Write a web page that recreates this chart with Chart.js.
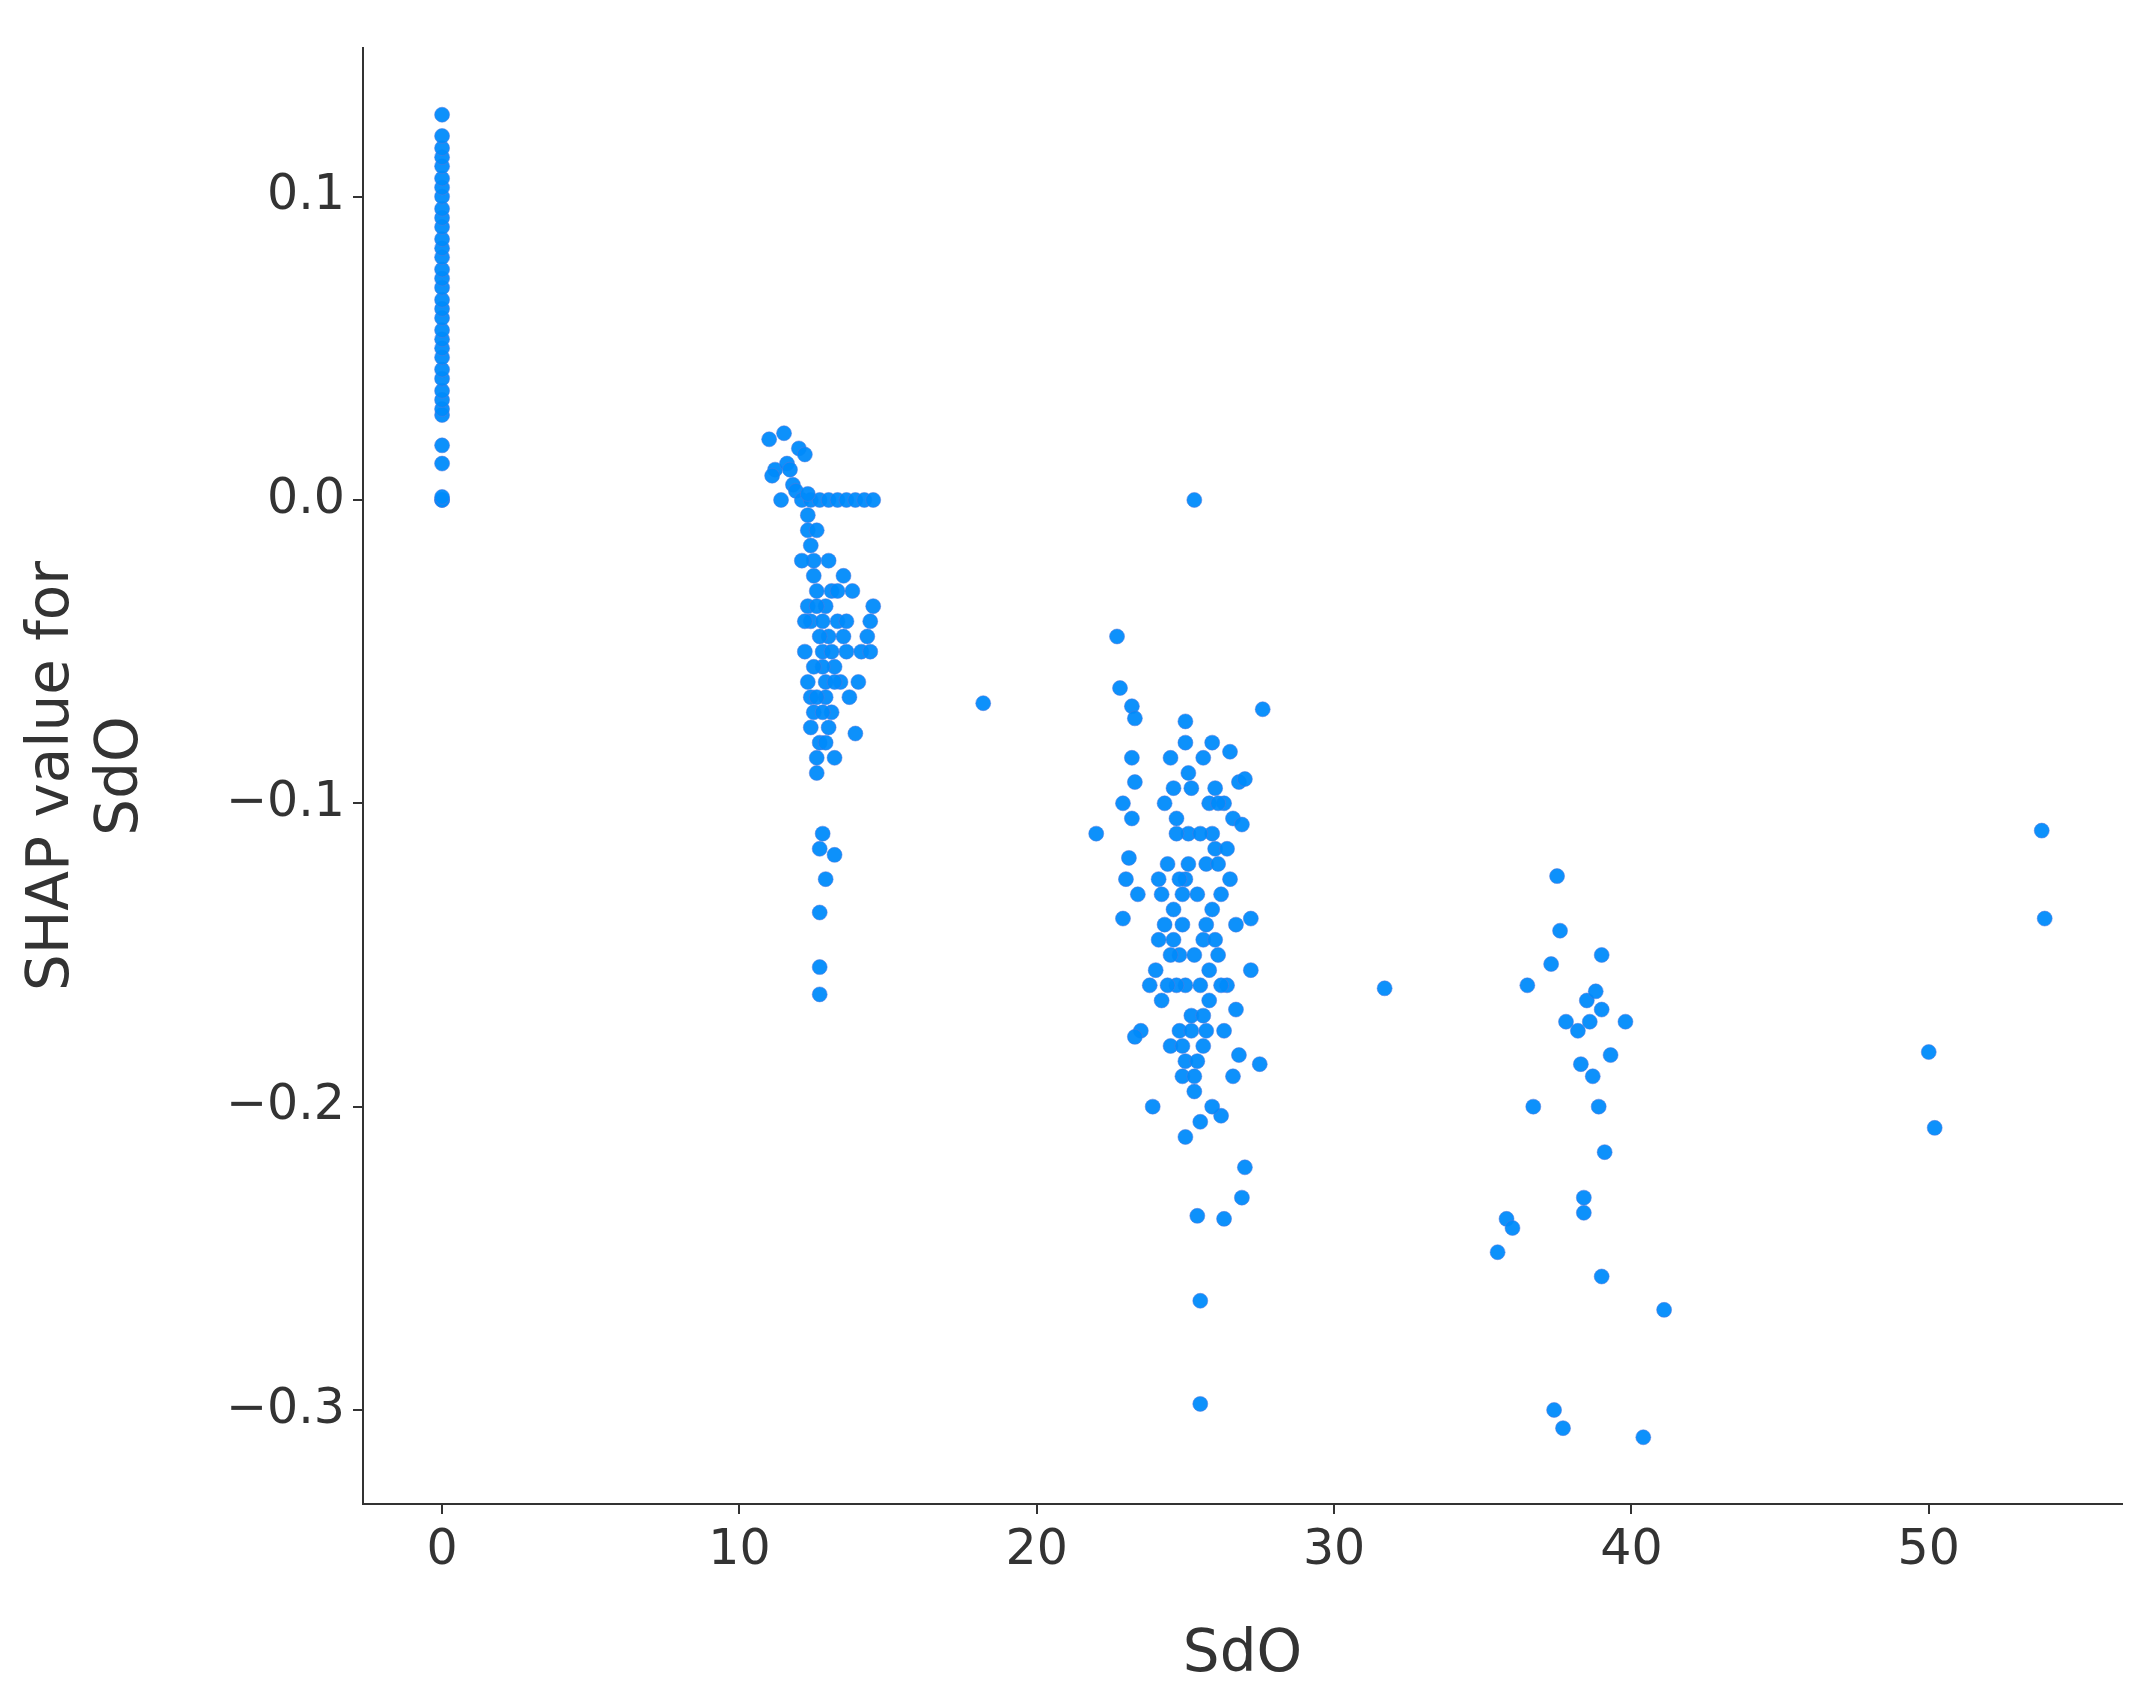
<!DOCTYPE html>
<html><head><meta charset="utf-8">
<script src="https://cdn.jsdelivr.net/npm/chart.js@4/dist/chart.umd.min.js"></script>
<style>html,body{margin:0;padding:0;background:#fff}#w{width:2138px;height:1695px}</style>
</head><body><div id="w"><canvas id="c"></canvas></div>
<script>
const xTicks=[0,10,20,30,40,50];
const yTicks=[-0.3,-0.2,-0.1,0,0.1];
const xTitle="SdO";
const yTitle=["SHAP value for","SdO"];
const cluster0Y=[0,0,0.001,0.012,0.018,0.028,0.03,0.033,0.036,0.04,0.043,0.047,0.05,0.053,0.056,0.06,0.063,0.066,0.07,0.073,0.076,0.08,0.083,0.086,0.09,0.093,0.096,0.1,0.103,0.106,0.11,0.113,0.116,0.12,0.127];
const pointsX=[11,11.5,11.2,11.6,12,12.2,11.1,11.8,11.4,11.9,12.1,12.4,12.7,13,13.3,13.6,13.9,14.2,14.5,12.3,12.5,12.6,12.4,12.8,12.2,12.9,12.5,12.7,12.6,13.1,13.3,13.5,13.6,13.8,14,14.3,14.5,14.4,13.9,13.2,12.8,12.7,13.2,12.9,12.7,12.7,12.7,13,12.3,13.4,12.4,13,13.7,12.1,12.9,13.2,
12.3,12.4,12.5,12.6,12.7,12.8,12.9,13,13.1,12.5,12.6,12.8,12.3,12.4,12.6,12.9,13.1,13.3,13.5,12.2,12.6,12.8,13.2,13.6,14.1,14.4,11.7,12.3,
18.2,
22.7,22.8,23.2,23.3,22,22.9,23.2,23.3,23.2,23.1,23,22.9,23.4,23.5,23.3,24,24.1,23.9,24.3,24.5,24.4,24.6,24.8,24.2,25,25,25.2,25.1,25,24.9,25,24.8,24.9,25,25.3,25.5,25.3,25.4,25.5,25.5,25.6,25.8,25.7,25.6,25.8,25.6,25.9,26,26.2,26.1,26.3,26.2,26.3,26.5,26.6,26.5,26.7,26.4,26.8,26.9,26.7,26.8,27,26.9,27.2,27.2,27.5,27.6,24.6,24.7,25.4,25.2,24.5,26,25.9,26.6,27,
24.3,24.5,24.7,24.9,25.1,25.3,25.5,25.7,25.9,26.1,26.3,24.4,24.6,24.8,25,25.2,25.4,25.6,25.8,26,26.2,24.2,24.7,25.1,25.5,25.9,26.4,24.1,23.8,24.9,25.3,25.7,26.1,
31.7,35.5,35.8,36,36.5,36.7,37.3,37.5,37.6,37.4,37.7,37.8,38.2,38.3,38.4,38.4,38.5,38.6,38.7,38.8,38.9,39,39,39,39.1,39.3,39.8,40.4,41.1,50,50.2,53.8,53.9];
const pointsY=[0.02,0.022,0.01,0.012,0.017,0.015,0.008,0.005,0,0.003,0,0,0,0,0,0,0,0,0,-0.01,-0.02,-0.03,-0.04,-0.05,-0.05,-0.06,-0.07,-0.08,-0.09,-0.07,-0.04,-0.025,-0.05,-0.03,-0.06,-0.045,-0.035,-0.04,-0.077,-0.085,-0.11,-0.115,-0.117,-0.125,-0.136,-0.154,-0.163,-0.02,-0.035,-0.06,-0.065,-0.045,-0.065,-0.02,-0.035,-0.055,
-0.005,-0.015,-0.025,-0.035,-0.045,-0.055,-0.065,-0.075,-0.03,-0.055,-0.065,-0.04,-0.06,-0.075,-0.085,-0.08,-0.05,-0.03,-0.045,-0.04,-0.01,-0.07,-0.06,-0.04,-0.05,-0.05,0.01,0.002,
-0.067,
-0.045,-0.062,-0.068,-0.072,-0.11,-0.1,-0.085,-0.093,-0.105,-0.118,-0.125,-0.138,-0.13,-0.175,-0.177,-0.155,-0.145,-0.2,-0.1,-0.085,-0.12,-0.135,-0.15,-0.165,-0.073,-0.08,-0.095,-0.11,-0.125,-0.14,-0.16,-0.175,-0.19,-0.21,-0.195,-0.205,0,-0.236,-0.264,-0.298,-0.085,-0.1,-0.12,-0.145,-0.165,-0.18,-0.08,-0.095,-0.13,-0.15,-0.175,-0.203,-0.237,-0.083,-0.105,-0.125,-0.14,-0.16,-0.093,-0.107,-0.168,-0.183,-0.22,-0.23,-0.138,-0.155,-0.186,-0.069,-0.095,-0.11,-0.13,-0.17,-0.18,-0.115,-0.2,-0.19,-0.092,
-0.14,-0.15,-0.16,-0.13,-0.12,-0.15,-0.16,-0.14,-0.11,-0.12,-0.1,-0.16,-0.145,-0.125,-0.185,-0.175,-0.185,-0.17,-0.155,-0.145,-0.16,-0.13,-0.105,-0.09,-0.11,-0.135,-0.115,-0.125,-0.16,-0.18,-0.19,-0.175,-0.1,
-0.161,-0.248,-0.237,-0.24,-0.16,-0.2,-0.153,-0.124,-0.142,-0.3,-0.306,-0.172,-0.175,-0.186,-0.23,-0.235,-0.165,-0.172,-0.19,-0.162,-0.2,-0.168,-0.15,-0.256,-0.215,-0.183,-0.172,-0.309,-0.267,-0.182,-0.207,-0.109,-0.138];
const data=cluster0Y.map(y=>({x:0,y})).concat(pointsX.map((x,i)=>({x,y:pointsY[i]})));
const fmt=v=>{const s=Number(v).toFixed(1);return s.replace('-','\u2212');};
const F="'DejaVu Sans'";
new Chart(document.getElementById('c'),{type:'scatter',
data:{datasets:[{data,backgroundColor:'rgba(0,139,251,0.95)',borderColor:'rgba(90,120,220,0.5)',borderWidth:1,pointRadius:7.5}]},
options:{responsive:true,maintainAspectRatio:false,animation:false,
layout:{padding:{top:48,right:16,left:14,bottom:0}},
plugins:{legend:{display:false},tooltip:{enabled:false}},
scales:{
x:{type:'linear',min:-2.66,max:56.5,
afterBuildTicks:s=>{s.ticks=xTicks.map(v=>({value:v}));},
afterFit:s=>{s.height=191;},
ticks:{font:{family:F,size:49},color:'#333',padding:8,callback:v=>String(v)},
grid:{drawOnChartArea:false,drawTicks:true,tickLength:10,color:'#333',lineWidth:2},
border:{display:true,color:'#333',width:2},
title:{display:true,text:xTitle,font:{family:F,size:58},color:'#333',padding:{top:-6}}},
y:{type:'linear',min:-0.331,max:0.149,
afterBuildTicks:s=>{s.ticks=yTicks.map(v=>({value:v}));},
afterFit:s=>{s.width=349;},
ticks:{font:{family:F,size:49},color:'#333',padding:8,callback:v=>fmt(v)},
grid:{drawOnChartArea:false,drawTicks:true,tickLength:10,color:'#333',lineWidth:2},
border:{display:true,color:'#333',width:2},
title:{display:true,text:yTitle,font:{family:F,size:58},color:'#333',padding:{bottom:4}}}}}});
</script></body></html>
